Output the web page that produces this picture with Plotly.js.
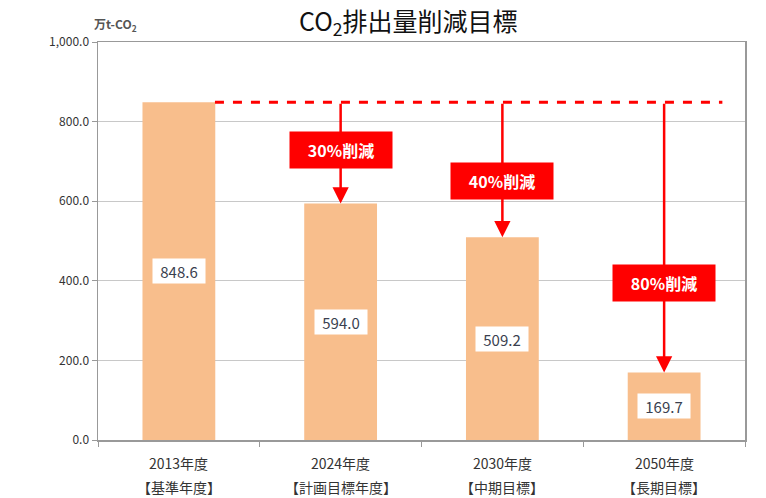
<!DOCTYPE html>
<html>
<head>
<meta charset="utf-8">
<script src="https://cdn.plot.ly/plotly-3.0.1.min.js"></script>
<style>html,body{margin:0;padding:0;background:#fff;}</style>
</head>
<body>
<div id="chart" style="width:766px;height:498px;"></div>
<script>
const categories = ["2013年度<br>【基準年度】", "2024年度<br>【計画目標年度】", "2030年度<br>【中期目標】", "2050年度<br>【長期目標】"];
const values = [848.6, 594.0, 509.2, 169.7];
const valueLabels = ["848.6", "594.0", "509.2", "169.7"];
const reductionLabels = ["", "30%削減", "40%削減", "80%削減"];
const yTicks = [0, 200, 400, 600, 800, 1000];

const FONT = "'Noto Sans CJK JP', 'Noto Sans', sans-serif";
const base = values[0];
const labelFrac = [0, 0.47, 0.58, 0.67];

const annotations = [];
categories.forEach((c, i) => {
  c.split('<br>').forEach((line, k) => {
    annotations.push({
      x: i, y: 0, xref: 'x', yref: 'paper', text: line, showarrow: false,
      yanchor: 'middle', yshift: -23 - 24 * k,
      font: {family: FONT, size: 14, color: '#333'}
    });
  });
});
values.forEach((v, i) => {
  annotations.push({
    x: i, y: v / 2, xref: 'x', yref: 'y', text: valueLabels[i], showarrow: false,
    bgcolor: '#ffffff', width: 50, height: 22, borderpad: 1,
    font: {family: FONT, size: 15, color: '#3a3f4f'}
  });
  if (i > 0) {
    annotations.push({
      x: i, y: v, xref: 'x', yref: 'y', ax: i, ay: base, axref: 'x', ayref: 'y',
      text: '', showarrow: true, arrowhead: 2, arrowsize: 1.3, arrowwidth: 2.5, arrowcolor: '#ff0000'
    });
    annotations.push({
      x: i, y: base - (base - v) * labelFrac[i], xref: 'x', yref: 'y', text: '<b>' + reductionLabels[i] + '</b>',
      showarrow: false, bgcolor: '#ff0000', width: 100, height: 34, borderpad: 1,
      font: {family: FONT, size: 16, color: '#ffffff'}
    });
  }
});
annotations.push({
  x: -0.01, y: 1.045, xref: 'paper', yref: 'paper', xanchor: 'left', yanchor: 'middle', text: '<b>万t-CO<sub>2</sub></b>',
  showarrow: false, font: {family: FONT, size: 12, color: '#555'}
});

const trace = {
  type: 'bar', x: categories, y: values, width: 0.45,
  marker: {color: '#f8be8c'}, hoverinfo: 'skip'
};

const layout = {
  width: 766, height: 498,
  margin: {l: 98, r: 21, t: 42, b: 58},
  paper_bgcolor: '#ffffff', plot_bgcolor: '#ffffff',
  title: {text: 'CO<sub>2</sub>排出量削減目標', x: 0.533, xanchor: 'center', y: 0.956, yanchor: 'middle',
          font: {family: FONT, size: 25, color: '#111'}},
  showlegend: false,
  xaxis: {
    type: 'category', tickson: 'boundaries', ticks: 'outside', ticklen: 5, tickcolor: '#999',
    showline: true, linecolor: '#999', linewidth: 1.5, mirror: true,
    showticklabels: false, showgrid: false
  },
  yaxis: {
    range: [0, 1000], tickvals: yTicks, tickformat: ',.1f', ticks: 'outside', ticklen: 5, tickcolor: '#999',
    showline: true, linecolor: '#999', linewidth: 1.5, mirror: true,
    gridcolor: '#c8c8c8', gridwidth: 1, zeroline: false,
    tickfont: {family: FONT, size: 12, color: '#333'}
  },
  shapes: [{
    type: 'line', xref: 'x', yref: 'y', x0: 0.223, x1: 3.36, y0: base, y1: base,
    line: {color: '#ff0000', width: 3, dash: 'dash'}
  }],
  annotations: annotations
};

Plotly.newPlot('chart', [trace], layout, {displayModeBar: false, staticPlot: true});
</script>
</body>
</html>
